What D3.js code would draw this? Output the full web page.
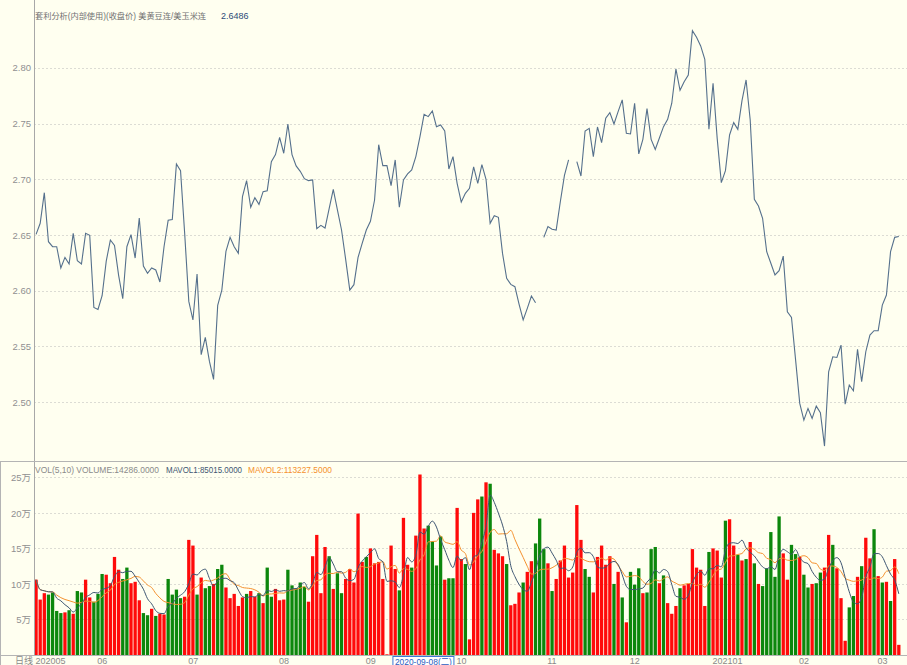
<!DOCTYPE html>
<html>
<head>
<meta charset="utf-8">
<script src="https://cdn.jsdelivr.net/npm/d3@7"></script>
<style>
  body { margin: 0; background: #fffff0; }
  svg { display: block; font-family: "Liberation Sans", "Noto Sans CJK SC", sans-serif; }
</style>
</head>
<body>
<script>
// spread close, one value per trading day (null = no quote)
var closes = [
  2.6506, 2.6605, 2.6880, 2.6440, 2.6395, 2.6395, 2.6204, 2.6299, 2.6240, 2.6515,
  2.6269, 2.6240, 2.6515, 2.6497, 2.5850, 2.5832, 2.5955, 2.6266, 2.6455, 2.6407,
  2.6138, 2.5928, 2.6395, 2.6503, 2.6293, 2.6653, 2.6222, 2.6156, 2.6204, 2.6186,
  2.6078, 2.6395, 2.6632, 2.6638, 2.7138, 2.7078, 2.6515, 2.5904, 2.5737, 2.6150,
  2.5425, 2.5581, 2.5365, 2.5204, 2.5868, 2.6006, 2.6353, 2.6479, 2.6395, 2.6335,
  2.6844, 2.6988, 2.6749, 2.6835, 2.6775, 2.6889, 2.6898, 2.7159, 2.7222, 2.7377,
  2.7234, 2.7497, 2.7222, 2.7120, 2.7072, 2.7006, 2.6988, 2.6994, 2.6557, 2.6587,
  2.6563, 2.6737, 2.6910, 2.6725, 2.6545, 2.6281, 2.6006, 2.6054, 2.6299, 2.6425,
  2.6545, 2.6623, 2.6814, 2.7311, 2.7123, 2.7123, 2.6943, 2.7174, 2.6749, 2.6994,
  2.7048, 2.7084, 2.7204, 2.7383, 2.7584, 2.7563, 2.7614, 2.7473, 2.7488, 2.7434,
  2.7093, 2.7204, 2.6964, 2.6796, 2.6874, 2.6919, 2.7111, 2.6964, 2.7132, 2.7000,
  2.6605, 2.6674, 2.6659, 2.6335, 2.6111, 2.6057, 2.6036, 2.5880, 2.5737, 2.5841,
  2.5952, 2.5892, null,   2.6479, 2.6575, 2.6551, 2.6545, 2.6799, 2.7036, 2.7174,
  null,   2.7159, 2.7030, 2.7434, 2.7458, 2.7204, 2.7470, 2.7329, 2.7548, 2.7599,
  2.7497, 2.7608, 2.7713, 2.7413, 2.7407, 2.7683, 2.7228, 2.7359, 2.7635, 2.7359,
  2.7269, 2.7371, 2.7473, 2.7539, 2.7683, 2.7991, 2.7799, 2.7877, 2.7937, 2.8335,
  2.8275, 2.8198, 2.8078, 2.7449, 2.7862, 2.7368, 2.6970, 2.7078, 2.7398, 2.7509,
  2.7449, 2.7704, 2.7892, 2.7533, 2.6820, 2.6760, 2.6650, 2.6350, 2.6246, 2.6141,
  2.6180, 2.6311, 2.5811, 2.5760, 2.5377, 2.4988, 2.4838, 2.4943, 2.4853, 2.4964,
  2.4904, 2.4605, 2.5272, 2.5407, 2.5401, 2.5512, 2.4982, 2.5153, 2.5102, 2.5473,
  2.5183, 2.5452, 2.5602, 2.5641, 2.5641, 2.5871, 2.5961, 2.6350, 2.6479, 2.6486
];

// volume in 万 (10,000) units
var volumes = [
  10.6, 7.8, 8.7, 8.5, 8.8, 6.2, 5.9, 6.0, 6.3, 5.8,
  9.0, 8.8, 10.6, 8.1, 7.5, 8.6, 11.4, 11.3, 10.1, 13.8,
  12.0, 10.7, 12.3, 10.1, 10.3, 7.7, 5.9, 5.6, 6.5, 5.5,
  5.8, 5.7, 10.7, 8.5, 9.2, 8.0, 8.2, 16.2, 15.4, 8.5,
  10.9, 9.4, 9.7, 10.0, 12.1, 12.7, 9.5, 8.0, 8.6, 6.9,
  8.1, 8.6, 9.0, 8.2, 8.7, 7.3, 12.3, 8.2, 9.3, 7.7,
  7.8, 12.0, 9.8, 9.4, 10.2, 9.6, 7.5, 13.9, 16.9, 8.7,
  15.2, 13.9, 9.3, 11.5, 8.7, 10.7, 12.1, 10.2, 19.9, 13.1,
  13.8, 15.0, 12.9, 13.1, 10.7, 0.1, 15.4, 12.1, 9.1, 19.3,
  12.7, 12.3, 16.8, 25.4, 17.8, 18.2, 16.0, 12.6, 16.7, 10.6,
  10.8, 10.8, 20.7, 13.5, 12.8, 2.2, 20.0, 21.9, 22.3, 24.3,
  24.1, 14.8, 14.3, 13.9, 12.8, 7.0, 7.2, 8.8, 10.2, 11.7,
  13.2, 15.7, 19.2, 14.9, 12.9, 9.0, 10.7, 13.3, 15.4, 10.9,
  11.6, 21.1, 16.2, 12.1, 11.0, 8.8, 13.8, 15.4, 12.7, 13.9,
  10.0, 11.7, 8.1, 4.6, 11.7, 9.9, 12.2, 8.7, 8.8, 14.9,
  15.2, 10.1, 11.2, 7.3, 5.8, 6.9, 9.4, 9.8, 10.0, 14.9,
  12.3, 12.0, 6.9, 14.5, 15.0, 14.7, 10.9, 18.9, 19.1, 15.4,
  14.1, 13.3, 13.5, 15.9, 12.9, 10.0, 9.7, 12.2, 17.3, 11.0,
  19.5, 14.3, 10.6, 15.5, 14.2, 13.8, 11.3, 9.5, 10.0, 10.1,
  11.6, 12.3, 16.9, 15.5, 12.2, 8.0, 2.0, 6.7, 8.3, 11.0,
  12.5, 16.5, 13.6, 17.7, 11.1, 10.2, 10.3, 7.6, 13.5, 1.4286
];

// r = up bar, g = down bar
var barColors = (
  "rrrggggrgr" + "ggrrgggrrr" + "rggrrrggrg" + "rrggggrrrg" + "rggrggrrrr" +
  "rgrrgrggrr" + "rgggggrrrr" + "rgrggrrrrr" + "grrrrrrrgr" + "rgrrrggggr" +
  "ggrrgrrrgr" + "grrrgrrrgr" + "rgggrgrrrr" + "rrrggrrrrr" + "grgrgggrgg" +
  "grgrrrgrrr" + "rrrgrrrgrr" + "grgrgrgggg" + "grrggrggrg" + "grrgrrrggr" +
  "grrgrgrgrr"
).split("");

var priceTicks = [2.50, 2.55, 2.60, 2.65, 2.70, 2.75, 2.80];
var volTicks = [5, 10, 15, 20, 25];
var monthIndex = [0, 15, 37, 59, 80, 102, 124, 144, 164, 185, 204];
var monthText = ["202005", "06", "07", "08", "09", "10", "11", "12", "202101", "02", "03"];

var titleText = "套利分析(内部使用)(收盘价) 美黄豆连/美玉米连";
var lastPrice = "2.6486";
var volHeader = ["VOL(5,10) VOLUME:14286.0000", "MAVOL1:85015.0000", "MAVOL2:113227.5000"];
var cursorIndex = 86, cursorText = "2020-09-08(二)";

var width = 907, height = 665;
var left = 34, right = 907;

var svg = d3.select("body").append("svg")
    .attr("width", width)
    .attr("height", height);

svg.append("rect").attr("width", width).attr("height", height).attr("fill", "#fffff0");

var x = d3.scaleBand()
    .domain(d3.range(closes.length))
    .range([left, left + closes.length * 4.128])
    .paddingInner(0.2)
    .paddingOuter(0.1);
var cx = function(i){ return x(i) + x.bandwidth() / 2; };

var yP = d3.scaleLinear().domain([2.448, 2.861]).range([460, 0]);
var yV = d3.scaleLinear().domain([0, 27.3]).range([655, 461]);

// grids
svg.append("g").selectAll("line").data(priceTicks).enter().append("line")
    .attr("x1", left).attr("x2", right)
    .attr("y1", function(d){ return Math.round(yP(d)) + 0.5; })
    .attr("y2", function(d){ return Math.round(yP(d)) + 0.5; })
    .attr("stroke", "#dcdcd4").attr("stroke-dasharray", "2,2");

svg.append("g").selectAll("line").data(volTicks).enter().append("line")
    .attr("x1", left).attr("x2", right)
    .attr("y1", function(d){ return Math.round(yV(d)) + 0.5; })
    .attr("y2", function(d){ return Math.round(yV(d)) + 0.5; })
    .attr("stroke", "#dcdcd4").attr("stroke-dasharray", "2,2");

// tick labels
svg.append("g").selectAll("text").data(priceTicks).enter().append("text")
    .attr("x", 31).attr("y", function(d){ return yP(d) + 3.5; })
    .attr("text-anchor", "end").attr("font-size", 9.5).attr("fill", "#909090")
    .text(function(d){ return d3.format(".2f")(d); });

svg.append("g").selectAll("text").data(volTicks).enter().append("text")
    .attr("x", 31).attr("y", function(d){ return yV(d) + 4; })
    .attr("text-anchor", "end").attr("font-size", 9.5).attr("fill", "#909090")
    .text(function(d){ return d + "万"; });

// volume bars
svg.append("g").selectAll("rect").data(volumes).enter().append("rect")
    .attr("x", function(d, i){ return x(i); })
    .attr("width", x.bandwidth())
    .attr("y", function(d){ return yV(d); })
    .attr("height", function(d){ return yV(0) - yV(d); })
    .attr("fill", function(d, i){ return barColors[i] == "r" ? "#ff0a0a" : "#0c870c"; });

// moving averages of volume
function movingAvg(arr, n){
    return arr.map(function(d, i){ return d3.mean(arr.slice(Math.max(0, i - n + 1), i + 1)); });
}
var ma5 = movingAvg(volumes, 5), ma10 = movingAvg(volumes, 10);
var maLine = d3.line()
    .x(function(d, i){ return cx(i); })
    .y(function(d){ return yV(d); })
    .curve(d3.curveMonotoneX);
svg.append("path").attr("d", maLine(ma10)).attr("fill", "none").attr("stroke", "#f5912e").attr("stroke-width", 1);
svg.append("path").attr("d", maLine(ma5)).attr("fill", "none").attr("stroke", "#3e5672").attr("stroke-width", 1);

// price line
var priceLine = d3.line()
    .defined(function(d){ return d != null; })
    .x(function(d, i){ return cx(i); })
    .y(function(d){ return yP(d); });
svg.append("path").attr("d", priceLine(closes))
    .attr("fill", "none").attr("stroke", "#55708c").attr("stroke-width", 1.1);

// frame lines
svg.append("line").attr("x1", left + 0.5).attr("x2", left + 0.5).attr("y1", 0).attr("y2", 656)
    .attr("stroke", "#a8a8a8");
svg.append("line").attr("x1", 0).attr("x2", right).attr("y1", 461.5).attr("y2", 461.5)
    .attr("stroke", "#b4b4b4");
svg.append("line").attr("x1", 0).attr("x2", right).attr("y1", 655.5).attr("y2", 655.5)
    .attr("stroke", "#b4b4b4");
svg.append("line").attr("x1", 0.5).attr("x2", 0.5).attr("y1", 461).attr("y2", 665)
    .attr("stroke", "#b4b4b4");

// title
svg.append("text").attr("x", 35).attr("y", 19).attr("font-size", 8.2).attr("fill", "#707070")
    .text(titleText);
svg.append("text").attr("x", 221).attr("y", 19).attr("font-size", 9).attr("fill", "#2c4a78")
    .text(lastPrice);

var vh = svg.append("text").attr("y", 473).attr("font-size", 9);
vh.append("tspan").attr("x", 35).attr("fill", "#8a8a8a")
    .attr("textLength", 124).attr("lengthAdjust", "spacingAndGlyphs").text(volHeader[0]);
vh.append("tspan").attr("x", 166).attr("fill", "#3e5672")
    .attr("textLength", 76).attr("lengthAdjust", "spacingAndGlyphs").text(volHeader[1]);
vh.append("tspan").attr("x", 248).attr("fill", "#f5912e")
    .attr("textLength", 84).attr("lengthAdjust", "spacingAndGlyphs").text(volHeader[2]);

// date axis
svg.append("text").attr("x", 15).attr("y", 664).attr("font-size", 9).attr("fill", "#8a8a8a").text("日线");
svg.append("g").selectAll("text").data(monthIndex).enter().append("text")
    .attr("x", function(d){ return x(d) + 1; })
    .attr("y", 664).attr("font-size", 9).attr("fill", "#8a8a8a")
    .text(function(d, i){ return monthText[i]; });

var cbx = x(cursorIndex) + 3.5;
svg.append("rect").attr("x", cbx).attr("y", 656.5).attr("width", 61).attr("height", 9)
    .attr("fill", "#ffffff").attr("stroke", "#3b78d8");
svg.append("text").attr("x", cbx + 2).attr("y", 664.5).attr("font-size", 9).attr("fill", "#2a5cc0")
    .attr("textLength", 57).attr("lengthAdjust", "spacingAndGlyphs").text(cursorText);
</script>
</body>
</html>
